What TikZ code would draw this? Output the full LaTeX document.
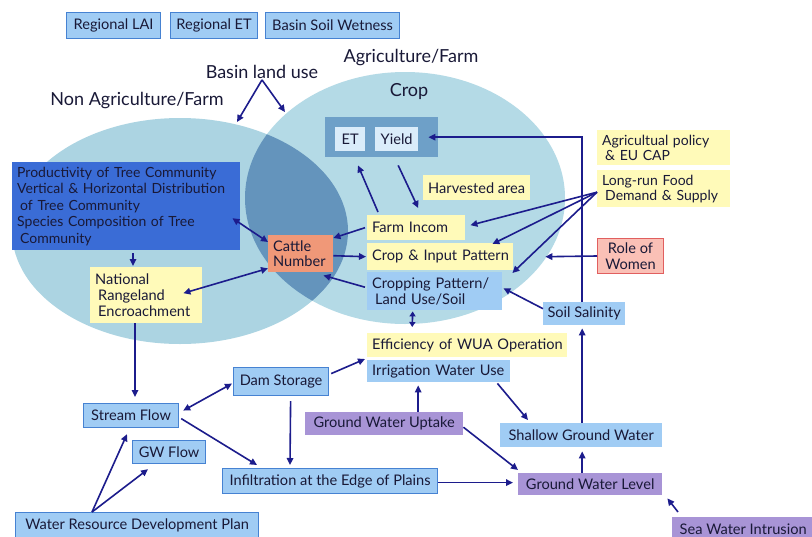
\documentclass[tikz,border=0pt]{standalone}
\usepackage{fontspec}
\setmainfont{Lato}
\usetikzlibrary{arrows.meta,calc}
\definecolor{ellL}{RGB}{172,212,226}
\definecolor{ellR}{RGB}{180,218,230}
\definecolor{lens}{RGB}{100,148,188}
\definecolor{boxblue}{RGB}{160,204,244}
\definecolor{bordblue}{RGB}{70,130,210}
\definecolor{yel}{RGB}{255,250,185}
\definecolor{purp}{RGB}{168,148,214}
\definecolor{treeblue}{RGB}{58,108,214}
\definecolor{salmon}{RGB}{240,152,120}
\definecolor{rowfill}{RGB}{250,192,182}
\definecolor{rowdraw}{RGB}{225,95,95}
\definecolor{etyout}{RGB}{110,160,200}
\definecolor{etyin}{RGB}{218,236,250}
\definecolor{navy}{RGB}{28,28,140}
\definecolor{txt}{RGB}{25,25,55}
\tikzset{
  bx/.style={rectangle, inner sep=0pt, anchor=north west, text=txt,
    font=\fontsize{14.6}{16}\selectfont},
  sz/.style n args={4}{at={(#1,#2)}, minimum width=#3pt, minimum height=#4pt},
  lft/.style={align=left, inner xsep=5pt, text width=#1pt},
  bluebd/.style={bx, fill=boxblue, draw=bordblue, line width=1.2pt},
  bluenb/.style={bx, fill=boxblue},
  yelb/.style={bx, fill=yel},
  purb/.style={bx, fill=purp},
  biglabel/.style={text=txt, font=\fontsize{18}{20}\selectfont, inner sep=1pt},
  arr/.style={draw=navy, line width=1.6pt, -{Triangle[length=7pt,width=6.5pt]}},
  darr/.style={draw=navy, line width=1.6pt, {Triangle[length=7pt,width=6.5pt]}-{Triangle[length=7pt,width=6.5pt]}},
  sdarr/.style={draw=navy, line width=1.6pt, {Triangle[length=5pt,width=6pt]}-{Triangle[length=5pt,width=6pt]}}
}
\begin{document}
\begin{tikzpicture}[x=1pt,y=-1pt]
\useasboundingbox (0,0) rectangle (812,536);
\fill[white] (0,0) rectangle (812,536);
% ellipses
\fill[ellL] (180,231) ellipse [x radius=168, y radius=113];
\fill[ellR] (405,198) ellipse [x radius=160, y radius=126];
\begin{scope}
  \clip (180,231) ellipse [x radius=168, y radius=113];
  \fill[lens] (405,198) ellipse [x radius=160, y radius=126];
\end{scope}
% labels
\node[biglabel] (nonag) at (137,101) {Non Agriculture/Farm};
\node[biglabel] (blu) at (262,72) {Basin land use};
\node[biglabel] (agf) at (411,58) {Agriculture/Farm};
\node[biglabel] (crop) at (409,92) {Crop};
\coordinate (leftell) at (237,122);
\coordinate (rightell) at (285,112);
% top boxes
\node[bluebd, sz={66}{12}{94}{26}] (lai) {Regional LAI};
\node[bluebd, sz={170}{12}{87}{26}] (ret) {Regional ET};
\node[bluebd, sz={265}{12}{134}{26}] (bsw) {Basin Soil Wetness};
% ET / Yield
\node[bx, fill=etyout, sz={325}{117}{113}{40}] (ety) {};
\node[bx, fill=etyin, sz={335}{127}{30}{24}] (et) {ET};
\node[bx, fill=etyin, sz={375}{127}{43}{24}] (yield) {Yield};
% crop area boxes
\node[yelb, sz={423}{175}{107}{25}] (harv) {Harvested area};
\node[yelb, sz={367}{215}{98}{25}, lft=88] (farm) {\mbox{Farm Incom}};
\node[yelb, sz={367}{243}{146}{27}, lft=136] (cip) {\mbox{Crop \& Input Pattern}};
\node[bluenb, sz={367}{272}{135}{38}, lft=125, font=\fontsize{14.6}{15.5}\selectfont] (cp) {\mbox{Cropping Pattern/}\\\hspace*{3pt}Land Use/Soil};
\node[bx, fill=salmon, sz={268}{235}{65}{37}, lft=55, font=\fontsize{14.6}{15.5}\selectfont] (cattle) {Cattle\\\mbox{Number}};
\node[bx, fill=treeblue, sz={12}{162}{228}{88}, lft=218, font=\fontsize{14}{16.5}\selectfont] (tree) {\mbox{Productivity of Tree Community}\\\mbox{Vertical \& Horizontal Distribution}\\\hspace*{3pt}of Tree Community\\\mbox{Species Composition of Tree}\\\hspace*{3pt}Community};
\node[yelb, sz={90}{267}{112}{56}, lft=102, font=\fontsize{14.6}{16}\selectfont] (range) {National\\\hspace*{3pt}Rangeland\\\hspace*{3pt}\mbox{Encroachment}};
\node[yelb, sz={367}{333}{200}{24}, lft=190] (eff) {\mbox{Efficiency of WUA Operation}};
\node[bluenb, sz={367}{360}{143}{22}, lft=133] (irr) {\mbox{Irrigation Water Use}};
\node[bluenb, sz={543}{302}{82}{23}] (sal) {Soil Salinity};
% right side
\node[yelb, sz={597}{130}{133}{35}, lft=123, font=\fontsize{14}{15}\selectfont] (agp) {\mbox{Agricultual policy}\\\hspace*{3pt}\& EU CAP};
\node[yelb, sz={597}{170}{133}{37}, lft=123, font=\fontsize{14}{15}\selectfont] (lrf) {\mbox{Long-run Food}\\\hspace*{3pt}\mbox{Demand \& Supply}};
\node[bx, fill=rowfill, draw=rowdraw, line width=1pt, sz={597}{238}{66}{35}, align=center, font=\fontsize{14.6}{15.5}\selectfont] (row) {Role of\\Women};
% water boxes
\node[bluebd, sz={233}{367}{95}{28}] (dam) {Dam Storage};
\node[bluebd, sz={83}{403}{95}{24}] (sf) {Stream Flow};
\node[bluebd, sz={132}{440}{73}{23}] (gw) {GW Flow};
\node[bluebd, sz={222}{468}{215}{25}] (inf) {Infiltration at the Edge of Plains};
\node[bluebd, sz={15}{512}{243}{26}] (wrdp) {Water Resource Development Plan};
\node[purb, sz={305}{412}{158}{23}] (gwu) {Ground Water Uptake};
\node[bluenb, sz={500}{423}{162}{24}] (sgw) {Shallow Ground Water};
\node[purb, sz={518}{473}{144}{22}] (gwl) {Ground Water Level};
\node[purb, sz={672}{517}{142}{24}] (swi) {Sea Water Intrusion};
% connectors
\draw[arr] (blu.south) -- (leftell);
\draw[arr] (blu.south) -- (rightell);
\draw[arr] ([xshift=121pt,yshift=-3pt]tree.south west) -- ([xshift=43pt,yshift=1pt]range.north west);
\draw[darr] ([xshift=-8pt,yshift=-12pt]tree.east) -- ([yshift=-7pt]cattle.north west);
\draw[darr] ([xshift=-19pt,yshift=2pt]range.east) -- ([yshift=4pt]cattle.south west);
\draw[arr] ([xshift=-2pt]farm.west) -- ([yshift=-3pt]cattle.north east);
\draw[arr] ([yshift=-2pt]cattle.east) -- ([xshift=-1pt]cip.west);
\draw[arr] ([xshift=-2pt,yshift=4pt]cp.west) -- ([xshift=-10pt,yshift=-3pt]cattle.south east);
\draw[arr] ([xshift=11pt,yshift=3pt]farm.north west) -- ([xshift=33pt,yshift=-8pt]ety.south west);
\draw[arr] ([xshift=16.5pt,yshift=-8pt]ety.south) -- ([xshift=2pt,yshift=7pt]farm.north);
\coordinate (lrfo) at ([yshift=-3.5pt]lrf.west);
\draw[arr] (lrfo) -- ([xshift=5pt,yshift=2.5pt]farm.east);
\draw[arr] (lrfo) -- ([xshift=-21pt,yshift=-1pt]cip.north east);
\draw[arr] (lrfo) -- ([xshift=10pt,yshift=-1pt]cp.north east);
\draw[arr] ([xshift=-2pt]sal.north) |- ([xshift=10pt,yshift=2pt]yield.east);
\draw[arr] (row.west) -- ([xshift=32pt]cip.east);
\draw[arr] ([yshift=5pt]sal.west) -- ([xshift=1pt,yshift=3pt]cp.east);
\draw[sdarr] ([xshift=-22pt,yshift=-1pt]cp.south) -- ([xshift=-55pt,yshift=6pt]eff.north);
\draw[arr] ([xshift=1pt]sgw.north) -- ([xshift=-2pt,yshift=-3pt]sal.south);
\draw[arr] ([xshift=-13pt,yshift=-1pt]irr.south east) -- ([xshift=28pt,yshift=3pt]sgw.north west);
\draw[arr] ([xshift=34pt]gwu.north) -- ([xshift=-20.5pt,yshift=-3pt]irr.south);
\draw[arr] ([yshift=-3.5pt]gwu.east) -- ([yshift=3pt]gwl.north west);
\draw[arr] ([xshift=-8pt]gwl.north) -- ([xshift=1pt,yshift=-4pt]sgw.south);
\draw[arr] ([yshift=-1.5pt]inf.east) -- ([xshift=-5pt,yshift=-1.5pt]inf.east -| gwl.west);
\draw[arr] ([xshift=6pt,yshift=5pt]swi.north west) -- ([xshift=5pt,yshift=-3pt]gwl.south east);
\draw[arr] ([xshift=2pt,yshift=8pt]dam.east) -- ([xshift=-2pt,yshift=1pt]irr.north west);
\draw[darr] ([xshift=4pt,yshift=5pt]sf.east) -- ([xshift=-1pt,yshift=-2pt]dam.west);
\draw[arr] ([xshift=2pt,yshift=-3pt]sf.east) -- ([xshift=35pt,yshift=3pt]inf.north west);
\draw[arr] ([xshift=9.5pt,yshift=-5pt]dam.south) -- ([xshift=68pt,yshift=3pt]inf.north west);
\draw[arr] ([xshift=45pt]range.south west) -- ([xshift=52pt,yshift=6pt]sf.north west);
\coordinate (wrdpo) at ([xshift=77pt]wrdp.north west);
\draw[arr] (wrdpo) -- ([xshift=44pt,yshift=-6pt]sf.south west);
\draw[arr] (wrdpo) -- ([xshift=16pt,yshift=-5pt]gw.south west);
\end{tikzpicture}
\end{document}
